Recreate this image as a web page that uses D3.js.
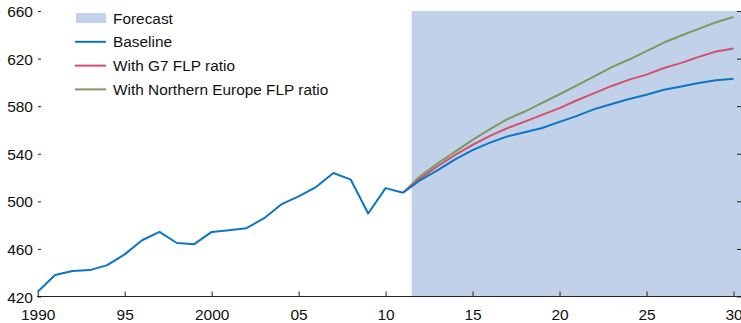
<!DOCTYPE html>
<html>
<head>
<meta charset="utf-8">
<script src="https://cdn.jsdelivr.net/npm/d3@7"></script>
<style>
  html, body { margin: 0; padding: 0; background: #fff; }
  svg { display: block; font-family: "Liberation Sans", Arial, sans-serif; }
</style>
</head>
<body>
<svg id="chart" width="741" height="323"></svg>
<script>
// ---- Data ----
const histYears = [1990,1991,1992,1993,1994,1995,1996,1997,1998,1999,2000,2001,2002,2003,2004,2005,2006,2007,2008,2009,2010,2011];
const histValues = [424,438,441.5,442.2,446.4,455.4,467.3,474.3,465,464,474.3,475.7,477.4,485.6,497.4,504.1,512,523.8,518.2,489.8,511.1,507.2];
const fcYears = [2011,2012,2013,2014,2015,2016,2017,2018,2019,2020,2021,2022,2023,2024,2025,2026,2027,2028,2029,2030];
const baselineFc = [507.2,517.9,526.3,535.3,543.0,549.4,554.6,558.1,561.6,566.8,571.8,577.5,581.8,586.0,589.6,593.8,596.6,599.5,601.7,603.1];
const g7Fc = [507.2,519.3,529.7,539.0,547.4,555.0,561.5,567.0,572.7,578.4,585.0,591.0,597.0,602.3,606.5,612.1,616.4,621.4,626.0,628.4];
const neFc = [507.2,521.3,532.0,541.8,551.6,560.7,569.1,575.5,582.8,590.0,597.5,605.0,612.8,619.2,626.2,633.5,639.4,645.0,650.5,655.0];
const forecastSpan = [2011.5, 2030.5];
const xTickValues = [1990,1995,2000,2005,2010,2015,2020,2025,2030];
const xTickLabels = ["1990","95","2000","05","10","15","20","25","30"];
const yTickValues = [420,460,500,540,580,620,660];
const legendLabels = ["Forecast","Baseline","With G7 FLP ratio","With Northern Europe FLP ratio"];
const colors = { forecast: "#c2d1ea", baseline: "#0a77c4", g7: "#d4506a", ne: "#7b9b5c", axis: "#222" };

// ---- Scales ----
const svg = d3.select("#chart");
const x = d3.scaleLinear().domain([1990, 2030]).range([37.7, 733.5]);
const y = d3.scaleLinear().domain([420, 660]).range([296.5, 11]);

// forecast shading
svg.append("rect")
  .attr("x", x(forecastSpan[0]))
  .attr("y", y(660))
  .attr("width", 741 - x(forecastSpan[0]))
  .attr("height", y(420) - y(660))
  .attr("fill", colors.forecast);

// x axis
const xAxis = d3.axisBottom(x).tickValues(xTickValues)
  .tickFormat((d, i) => xTickLabels[i]).tickSize(-5).tickSizeOuter(0).tickPadding(12);
const gx = svg.append("g").attr("transform", `translate(0,${y(420)})`).call(xAxis);
gx.select(".domain").remove();
gx.append("line").attr("x1", 37).attr("x2", 741).attr("y1", 0).attr("y2", 0)
  .attr("stroke", colors.axis).attr("stroke-width", 1.2);
gx.selectAll(".tick line").attr("stroke", colors.axis);
gx.selectAll(".tick text").attr("font-size", 15.5).attr("fill", "#111")
  .attr("font-family", "'Liberation Sans', Arial, sans-serif");

// left y axis (labels + small inward dashes)
const yAxisL = d3.axisLeft(y).tickValues(yTickValues).tickSize(0).tickPadding(4);
const gy = svg.append("g").attr("transform", "translate(37,0)").call(yAxisL);
gy.select(".domain").remove();
gy.selectAll(".tick text").attr("font-size", 15.5).attr("fill", "#111")
  .attr("font-family", "'Liberation Sans', Arial, sans-serif").attr("dy", "0.36em");
gy.selectAll(".tick").append("line").attr("x1", 1).attr("x2", 4)
  .attr("stroke", colors.axis).attr("stroke-width", 1);

// right ticks
const yAxisR = d3.axisLeft(y).tickValues(yTickValues).tickSize(4).tickFormat("");
const gr = svg.append("g").attr("transform", "translate(741,0)").call(yAxisR);
gr.select(".domain").remove();
gr.selectAll(".tick line").attr("stroke", colors.axis);

// lines
const line = d3.line().x(d => x(d[0])).y(d => y(d[1]));
function drawSeries(years, vals, color) {
  svg.append("path").datum(years.map((yr, i) => [yr, vals[i]]))
    .attr("d", line).attr("fill", "none").attr("stroke", color)
    .attr("stroke-width", 2).attr("stroke-linejoin", "round");
}
drawSeries(fcYears, neFc, colors.ne);
drawSeries(fcYears, g7Fc, colors.g7);
drawSeries(fcYears, baselineFc, colors.baseline);
drawSeries(histYears, histValues, colors.baseline);

// legend
const lg = svg.append("g");
const legendColors = [colors.forecast, colors.baseline, colors.g7, colors.ne];
legendLabels.forEach((lab, i) => {
  const cy = 18 + i * 23.8;
  if (i === 0) {
    lg.append("rect").attr("x", 76).attr("y", cy - 5).attr("width", 30).attr("height", 10)
      .attr("fill", legendColors[i]);
  } else {
    lg.append("line").attr("x1", 75).attr("x2", 106).attr("y1", cy).attr("y2", cy)
      .attr("stroke", legendColors[i]).attr("stroke-width", 2);
  }
  lg.append("text").attr("x", 113).attr("y", cy).attr("dy", "0.36em")
    .attr("font-size", 15.4).attr("fill", "#111").text(lab);
});
</script>
</body>
</html>
